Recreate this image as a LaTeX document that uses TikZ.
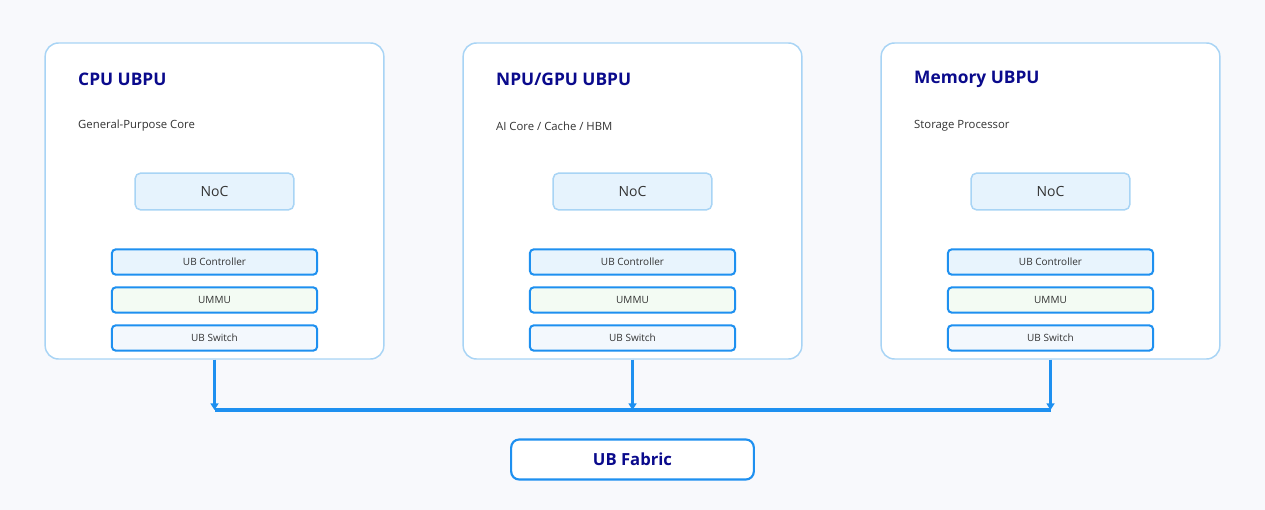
\documentclass[tikz,border=0pt]{standalone}
\usepackage{fontspec}
\setmainfont{Open Sans}
\usetikzlibrary{positioning,calc,arrows.meta}
\definecolor{bgcol}{HTML}{F8F9FC}
\definecolor{lightedge}{HTML}{A8D4F5}
\definecolor{nocfill}{HTML}{E6F3FD}
\definecolor{ubblue}{HTML}{1E90F0}
\definecolor{ctrlfill}{HTML}{E8F4FD}
\definecolor{mmufill}{HTML}{F3FBF3}
\definecolor{swfill}{HTML}{F3F8FD}
\definecolor{titlecol}{HTML}{0A0A8C}
\definecolor{txtcol}{HTML}{333333}
\tikzset{
  unit/.style={draw=lightedge, line width=1.1pt, fill=white, rounded corners=10pt, minimum width=254pt, minimum height=237pt},
  noc/.style={draw=lightedge, line width=1.1pt, fill=nocfill, rounded corners=4pt, minimum width=119pt, minimum height=27.5pt, font=\fontsize{10.5}{12}\selectfont, text=txtcol},
  layer/.style={draw=ubblue, line width=1.5pt, rounded corners=3pt, minimum width=154pt, minimum height=19pt, font=\fontsize{7.5}{9}\selectfont, text=txtcol},
  title/.style={font=\bfseries\fontsize{13}{15}\selectfont, text=titlecol, anchor=west},
  sub/.style={font=\fontsize{8.5}{10}\selectfont, text=txtcol, anchor=west},
  link/.style={draw=ubblue, line width=2pt, -{Triangle[length=5pt,width=6pt]}},
}
\begin{document}
\begin{tikzpicture}[x=0.75pt,y=-0.75pt]
  \fill[bgcol] (0,0) rectangle (1265,510);
  \useasboundingbox (0,0) rectangle (1265,510);
  % three processing units
  \foreach \n/\cx/\t/\s in {cpu/214.5/{CPU UBPU}/{General-Purpose Core},
      npu/632.5/{NPU/GPU UBPU}/{AI Core / Cache / HBM},
      mem/1050.5/{Memory UBPU}/{Storage Processor}} {
    \node[unit] (\n) at (\cx,201) {};
    \node[title] (\n-title) at (\cx-141,79) {\t};
    \node[sub] (\n-sub) at (\cx-141,126) {\s};
    \node[noc] (\n-noc) at (\cx,191.5) {NoC};
    \node[layer, fill=ctrlfill] (\n-ctrl) at (\cx,262) {UB Controller};
    \node[layer, fill=mmufill] (\n-mmu) at (\cx,300) {UMMU};
    \node[layer, fill=swfill] (\n-sw) at (\cx,338) {UB Switch};
    \coordinate (\n-bus) at (\cx,410);
    \draw[link] (\n.south) -- (\n-bus);
  }
  % shared bus
  \draw[ubblue, line width=3pt] (cpu-bus) -- (mem-bus);
  \node[draw=ubblue, line width=1.6pt, fill=white, rounded corners=6pt,
        minimum width=182pt, minimum height=30pt,
        font=\bfseries\fontsize{12.5}{14}\selectfont, text=titlecol] (fabric) at (632.5,459.5) {UB Fabric};
\end{tikzpicture}
\end{document}
